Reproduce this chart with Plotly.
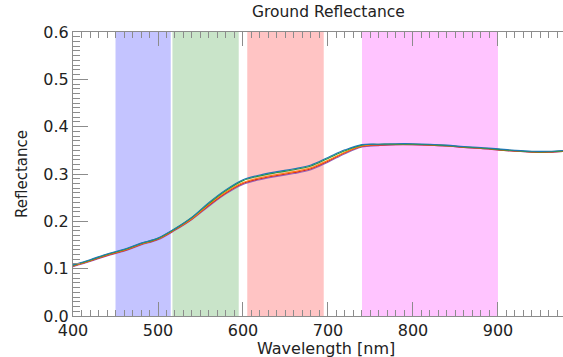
import plotly.graph_objects as go

wavelength = [400, 420, 440, 460, 480, 500, 520, 540, 560, 580, 600, 620, 640, 660, 680,
              700, 720, 740, 760, 780, 800, 820, 840, 860, 880, 900, 920, 940, 960, 980]

refl_1 = [0.108, 0.119, 0.131, 0.141, 0.154, 0.165, 0.185, 0.209, 0.240, 0.267, 0.288, 0.298, 0.305, 0.311, 0.319,
          0.335, 0.351, 0.362, 0.363, 0.364, 0.364, 0.363, 0.361, 0.358, 0.356, 0.353, 0.350, 0.348, 0.348, 0.350]
refl_2 = [0.107, 0.118, 0.130, 0.140, 0.153, 0.164, 0.184, 0.208, 0.238, 0.265, 0.286, 0.296, 0.303, 0.309, 0.317,
          0.333, 0.349, 0.361, 0.363, 0.363, 0.363, 0.362, 0.360, 0.357, 0.355, 0.352, 0.349, 0.347, 0.347, 0.349]
refl_3 = [0.106, 0.117, 0.129, 0.139, 0.152, 0.163, 0.183, 0.206, 0.236, 0.262, 0.282, 0.292, 0.299, 0.305, 0.313,
          0.329, 0.346, 0.359, 0.362, 0.363, 0.363, 0.362, 0.360, 0.357, 0.355, 0.352, 0.349, 0.347, 0.347, 0.349]
refl_4 = [0.105, 0.116, 0.128, 0.138, 0.151, 0.162, 0.182, 0.205, 0.234, 0.260, 0.280, 0.290, 0.297, 0.303, 0.311,
          0.327, 0.345, 0.358, 0.361, 0.362, 0.362, 0.361, 0.359, 0.356, 0.354, 0.351, 0.348, 0.346, 0.346, 0.348]
refl_5 = [0.104, 0.115, 0.127, 0.137, 0.150, 0.161, 0.181, 0.204, 0.232, 0.258, 0.278, 0.288, 0.295, 0.301, 0.309,
          0.325, 0.343, 0.357, 0.360, 0.362, 0.362, 0.361, 0.359, 0.356, 0.354, 0.351, 0.348, 0.346, 0.346, 0.348]

series = [refl_5, refl_4, refl_3, refl_2, refl_1]
series_colors = ["#9467bd", "#d62728", "#ff7f0e", "#2ca02c", "#1f77b4"]

band_starts = [450, 517, 605, 740]
band_ends = [515, 595, 695, 900]
band_colors = ["rgba(0,0,255,0.23)", "rgba(0,128,0,0.21)", "rgba(255,0,0,0.23)", "rgba(255,0,255,0.23)"]

W, H = 563, 357

fig = go.Figure()
for ys, c in zip(series, series_colors):
    fig.add_trace(go.Scatter(x=wavelength, y=ys, mode="lines",
                             line=dict(color=c, width=1.1, shape="spline"),
                             showlegend=False, hoverinfo="skip"))

for s, e, c in zip(band_starts, band_ends, band_colors):
    fig.add_vrect(x0=s, x1=e, fillcolor=c, line_width=0, layer="below")

axis_common = dict(showgrid=False, zeroline=False, showline=True, linecolor="#8c8c8c",
                   linewidth=1, ticks="inside", tickcolor="#8c8c8c",
                   tickfont=dict(size=16, color="#222"))

fig.add_annotation(text="Ground Reflectance", xref="paper", yref="paper",
                   x=(328 - 73) / (W - 73), y=1 + 20 / (H - 32 - 41),
                   xanchor="center", yanchor="middle", showarrow=False,
                   font=dict(size=15.5, color="#222"))
fig.add_annotation(text="Wavelength [nm]", xref="paper", yref="paper",
                   x=(326 - 73) / (W - 73), y=-(348 - 316) / (H - 32 - 41),
                   xanchor="center", yanchor="middle", showarrow=False,
                   font=dict(size=16, color="#222"))

fig.update_layout(
    width=W, height=H,
    margin=dict(l=73, r=0, t=32, b=41),
    paper_bgcolor="white", plot_bgcolor="white",
    font=dict(family="DejaVu Sans", color="#222"),
    xaxis=dict(range=[400, 976.5], tickvals=[400, 500, 600, 700, 800, 900],
               ticklen=14, tickwidth=1, mirror="ticks",
               minor=dict(dtick=10, ticklen=6, ticks="inside", tickcolor="#8c8c8c"),
               **axis_common),
    yaxis=dict(range=[0, 0.6], tickvals=[0, 0.1, 0.2, 0.3, 0.4, 0.5, 0.6],
               ticktext=["0.0", "0.1", "0.2", "0.3", "0.4", "0.5", "0.6"],
               ticklen=15, tickwidth=1, mirror=False,
               minor=dict(dtick=0.01, ticklen=7, ticks="inside", tickcolor="#8c8c8c"),
               title=dict(text="Reflectance", font=dict(size=15), standoff=12),
               **axis_common),
)

fig.write_html("out.html")
